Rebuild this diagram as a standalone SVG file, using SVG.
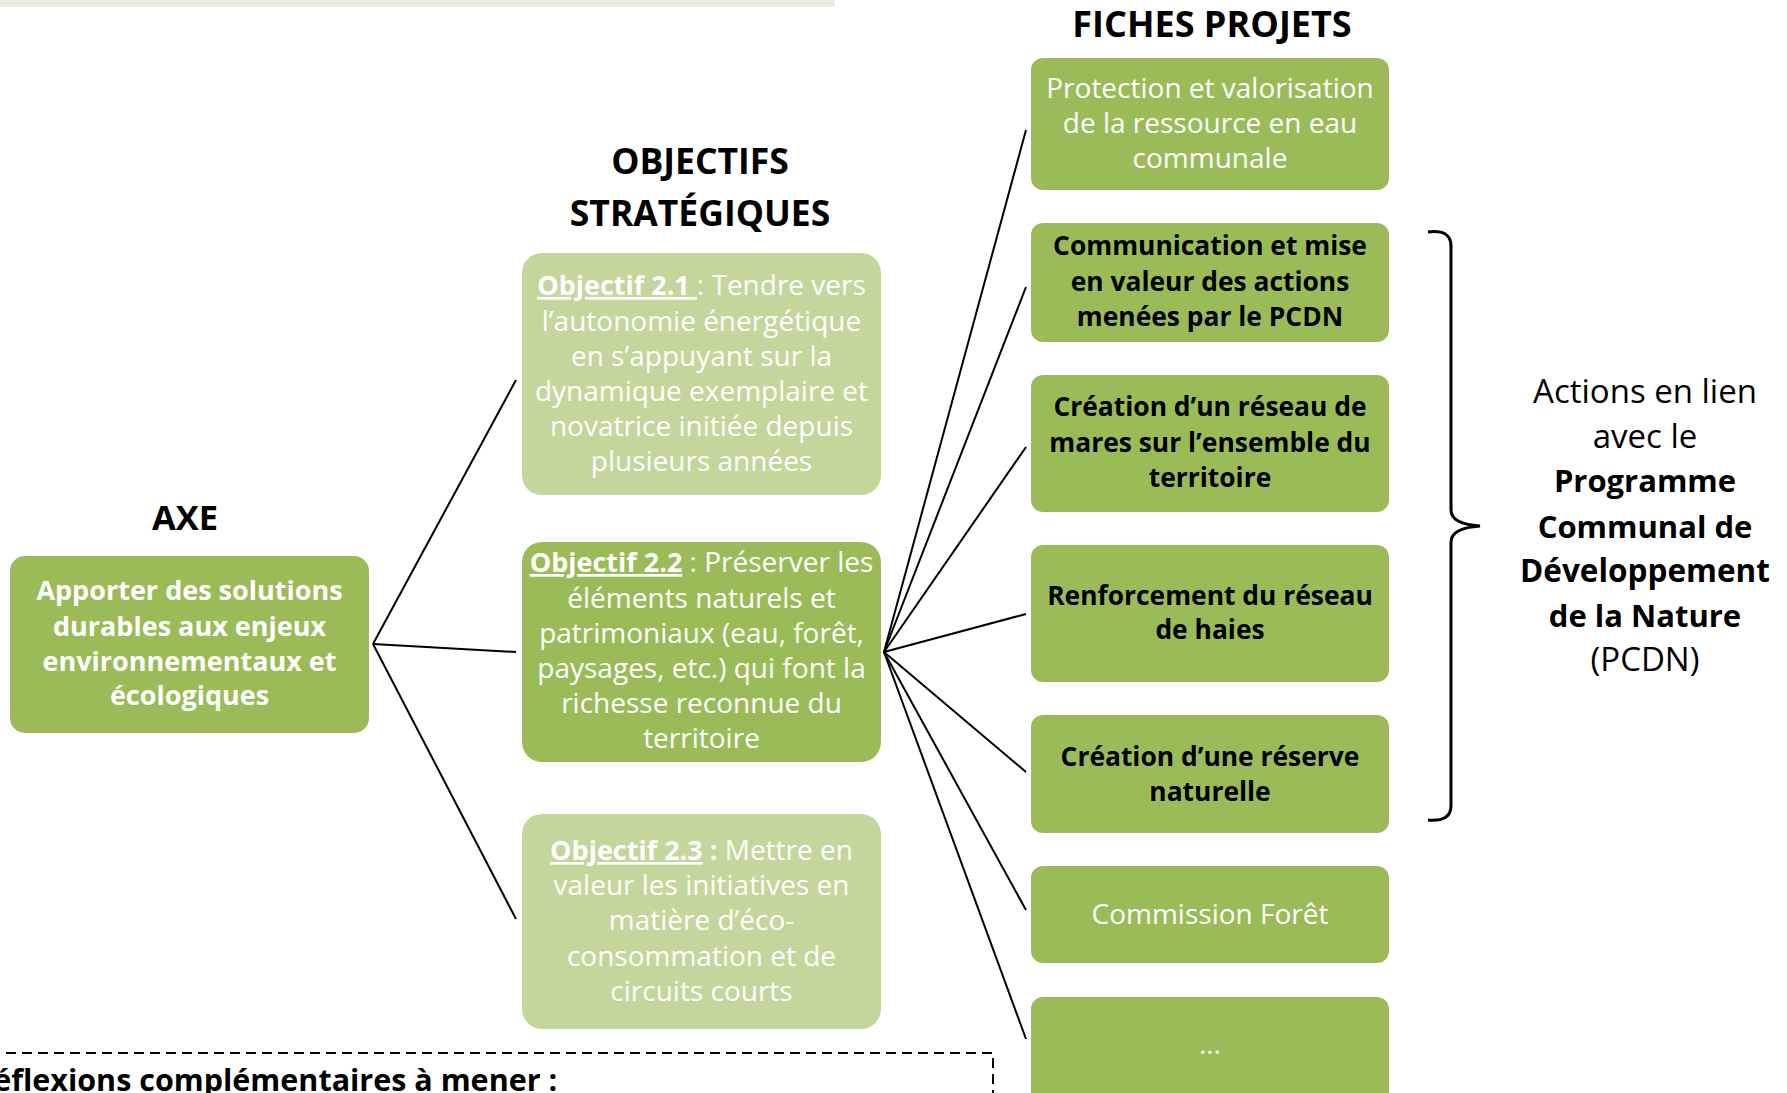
<svg xmlns="http://www.w3.org/2000/svg" width="1787" height="1093" viewBox="0 0 1787 1093">
  <style>
    text { font-family: "Open Sans", "Noto Sans", sans-serif; }
    .title { font-weight: 700; fill: #000; text-anchor: middle; }
    .dark { fill: #9BBB59; }
    .light { fill: #C3D69B; }
    .wr { fill: #fff; font-size: 28px; font-weight: 400; text-anchor: middle; }
    .wb { fill: #fff; font-size: 27px; font-weight: 700; text-anchor: middle; }
    .kb { fill: #000; font-size: 26.4px; font-weight: 700; text-anchor: middle; }
    .b { font-weight: 700; font-size: 27px; }
    .u { text-decoration: underline; }
    .conn line { stroke: #000; stroke-width: 2; }
  </style>

  <rect id="topbar" x="0" y="0" width="835" height="7" fill="#EDEBE0"/>

  <text class="title" x="185" y="530" font-size="34.5">AXE</text>
  <g class="title" font-size="35.5">
    <text x="700" y="174">OBJECTIFS</text>
    <text x="700" y="226">STRATÉGIQUES</text>
  </g>
  <text class="title" x="1212" y="37" font-size="36">FICHES PROJETS</text>

  <g class="conn" id="connectors">
    <line x1="373" y1="644" x2="516" y2="380"/>
    <line x1="373" y1="644" x2="516" y2="652"/>
    <line x1="373" y1="644" x2="516" y2="919"/>
    <line x1="884" y1="652" x2="1026" y2="130"/>
    <line x1="884" y1="652" x2="1026" y2="287"/>
    <line x1="884" y1="652" x2="1026" y2="447"/>
    <line x1="884" y1="652" x2="1026" y2="614"/>
    <line x1="884" y1="652" x2="1026" y2="772"/>
    <line x1="884" y1="652" x2="1026" y2="910"/>
    <line x1="884" y1="652" x2="1026" y2="1039"/>
  </g>

  <g id="axe">
    <rect class="dark" x="10" y="556" width="359" height="177" rx="15"/>
    <text class="wb" x="189.5" y="600">Apporter des solutions</text>
    <text class="wb" x="189.5" y="636">durables aux enjeux</text>
    <text class="wb" x="189.5" y="671">environnementaux et</text>
    <text class="wb" x="189.5" y="705">écologiques</text>
  </g>

  <g id="obj21">
    <rect class="light" x="522" y="253" width="359" height="242" rx="20"/>
    <text class="wr" x="701.5" y="295"><tspan class="b u">Objectif 2.1&#160;</tspan>: Tendre vers</text>
    <text class="wr" x="701.5" y="331">l’autonomie énergétique</text>
    <text class="wr" x="701.5" y="366">en s’appuyant sur la</text>
    <text class="wr" x="701.5" y="401">dynamique exemplaire et</text>
    <text class="wr" x="701.5" y="436">novatrice initiée depuis</text>
    <text class="wr" x="701.5" y="471">plusieurs années</text>
  </g>

  <g id="obj22">
    <rect class="dark" x="522" y="542" width="359" height="220" rx="20"/>
    <text class="wr" x="701.5" y="572"><tspan class="b u">Objectif 2.2</tspan> : Préserver les</text>
    <text class="wr" x="701.5" y="608">éléments naturels et</text>
    <text class="wr" x="701.5" y="643">patrimoniaux (eau, forêt,</text>
    <text class="wr" x="701.5" y="678">paysages, etc.) qui font la</text>
    <text class="wr" x="701.5" y="713">richesse reconnue du</text>
    <text class="wr" x="701.5" y="748">territoire</text>
  </g>

  <g id="obj23">
    <rect class="light" x="522" y="814" width="359" height="215" rx="20"/>
    <text class="wr" x="701.5" y="860"><tspan class="b u">Objectif 2.3</tspan><tspan class="b"> :</tspan> Mettre en</text>
    <text class="wr" x="701.5" y="895">valeur les initiatives en</text>
    <text class="wr" x="701.5" y="930">matière d’éco-</text>
    <text class="wr" x="701.5" y="966">consommation et de</text>
    <text class="wr" x="701.5" y="1001">circuits courts</text>
  </g>

  <g id="fiche1">
    <rect class="dark" x="1031" y="58" width="358" height="132" rx="12"/>
    <text class="wr" x="1210" y="98">Protection et valorisation</text>
    <text class="wr" x="1210" y="133">de la ressource en eau</text>
    <text class="wr" x="1210" y="168">communale</text>
  </g>
  <g id="fiche2">
    <rect class="dark" x="1031" y="223" width="358" height="119" rx="12"/>
    <text class="kb" x="1210" y="255">Communication et mise</text>
    <text class="kb" x="1210" y="291">en valeur des actions</text>
    <text class="kb" x="1210" y="326">menées par le PCDN</text>
  </g>
  <g id="fiche3">
    <rect class="dark" x="1031" y="375" width="358" height="137" rx="12"/>
    <text class="kb" x="1210" y="416">Création d’un réseau de</text>
    <text class="kb" x="1210" y="452">mares sur l’ensemble du</text>
    <text class="kb" x="1210" y="487">territoire</text>
  </g>
  <g id="fiche4">
    <rect class="dark" x="1031" y="545" width="358" height="137" rx="12"/>
    <text class="kb" x="1210" y="605">Renforcement du réseau</text>
    <text class="kb" x="1210" y="639">de haies</text>
  </g>
  <g id="fiche5">
    <rect class="dark" x="1031" y="715" width="358" height="118" rx="12"/>
    <text class="kb" x="1210" y="766">Création d’une réserve</text>
    <text class="kb" x="1210" y="801">naturelle</text>
  </g>
  <g id="fiche6">
    <rect class="dark" x="1031" y="866" width="358" height="97" rx="12"/>
    <text class="wr" x="1210" y="924">Commission Forêt</text>
  </g>
  <g id="fiche7">
    <rect class="dark" x="1031" y="997" width="358" height="120" rx="12"/>
    <text class="wr" x="1210" y="1054">…</text>
  </g>

  <g id="pcdn">
    <path d="M1428,232 Q1451,229 1451,246 L1451,510 Q1451,524 1480,526 Q1451,528 1451,542 L1451,806 Q1451,822 1428,820" fill="none" stroke="#000" stroke-width="3"/>
    <g text-anchor="middle" fill="#000">
      <text x="1645" y="403" font-size="33">Actions en lien</text>
      <text x="1645" y="448" font-size="33">avec le</text>
      <text x="1645" y="492" font-size="31" font-weight="700">Programme</text>
      <text x="1645" y="538" font-size="31" font-weight="700">Communal de</text>
      <text x="1645" y="582" font-size="31.5" font-weight="700">Développement</text>
      <text x="1645" y="627" font-size="31" font-weight="700">de la Nature</text>
      <text x="1645" y="671" font-size="33">(PCDN)</text>
    </g>
  </g>

  <g id="reflexions">
    <path d="M-10,1053 H993 V1100" fill="none" stroke="#000" stroke-width="2" stroke-dasharray="10 6"/>
    <text x="-27" y="1091" font-size="30.5" font-weight="700" fill="#000">Réflexions complémentaires à mener :</text>
  </g>
</svg>
